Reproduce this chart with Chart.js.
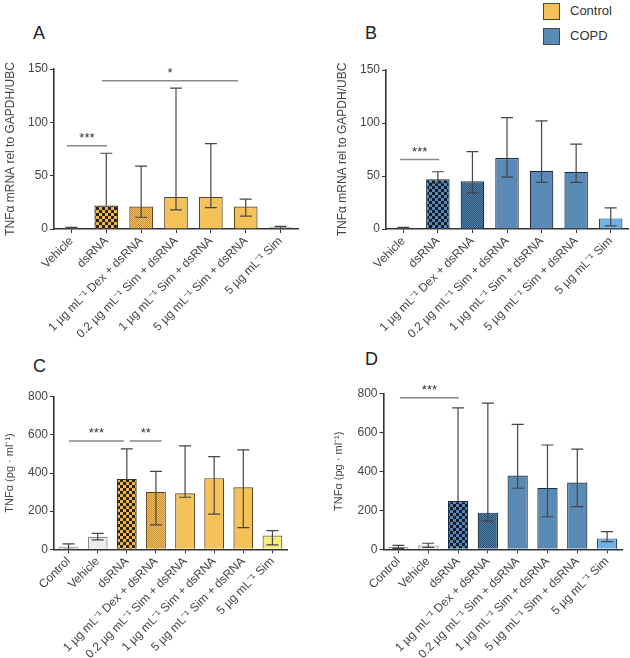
<!DOCTYPE html>
<html><head><meta charset="utf-8">
<script src="https://cdn.jsdelivr.net/npm/chart.js@4"></script>
<style>
html,body{margin:0;padding:0;background:#fff;width:630px;height:658px;overflow:hidden;font-family:"Liberation Sans",Arial,sans-serif;}
canvas{position:absolute;}
.lt{position:absolute;font-size:18px;color:#222;}
.lg{position:absolute;font-size:13px;color:#333;}
.sq{position:absolute;width:15px;height:15px;border:1px solid #444;}
</style></head><body>
<div class="lt" style="left:33px;top:23px">A</div>
<div class="lt" style="left:365px;top:23px">B</div>
<div class="lt" style="left:33px;top:356px">C</div>
<div class="lt" style="left:365px;top:349px">D</div>
<div class="sq" style="left:543px;top:3px;background:#f5c25a"></div>
<div class="lg" style="left:570px;top:3px">Control</div>
<div class="sq" style="left:543px;top:28px;background:#5a8ab6"></div>
<div class="lg" style="left:570px;top:28px">COPD</div>
<canvas id="cA" width="315" height="345" style="left:0;top:0"></canvas>
<canvas id="cB" width="315" height="345" style="left:315px;top:0"></canvas>
<canvas id="cC" width="315" height="308" style="left:0;top:350px"></canvas>
<canvas id="cD" width="315" height="313" style="left:315px;top:345px"></canvas>
<script>
// ---- data ----
const catsAB = ['Vehicle','dsRNA','1 µg mL⁻¹ Dex + dsRNA','0.2 µg mL⁻¹ Sim + dsRNA','1 µg mL⁻¹ Sim + dsRNA','5 µg mL⁻¹ Sim + dsRNA','5 µg mL⁻¹ Sim'];
const catsCD = ['Control','Vehicle','dsRNA','1 µg mL⁻¹ Dex + dsRNA','0.2 µg mL⁻¹ Sim + dsRNA','1 µg mL⁻¹ Sim + dsRNA','5 µg mL⁻¹ Sim + dsRNA','5 µg mL⁻¹ Sim'];

const aMean = [1, 22, 21, 30, 30, 21, 1.5];
const aHi   = [1.5, 71, 59, 132, 80, 28, 2.5];
const aLo   = [0.5, 22, 11, 18, 20, 12, 0.5];

const bMean = [1, 47, 45, 67, 55, 54, 10];
const bHi   = [1.5, 54, 73, 105, 102, 80, 20];
const bLo   = [0.5, 43, 34, 49, 44, 44, 3];

const cMean = [14, 66, 369, 302, 294, 373, 325, 72];
const cHi   = [28, 84, 526, 408, 542, 486, 521, 98];
const cLo   = [0, 49, 369, 128, 273, 184, 114, 23];

const dMean = [12, 20, 248, 188, 378, 315, 342, 56];
const dHi   = [20, 31, 725, 750, 641, 535, 514, 91];
const dLo   = [5, 10, 248, 145, 313, 167, 219, 39];

const sigA = [{from:-0.13,to:1.02,y:78,label:'***'},{from:0.88,to:4.78,y:139,label:'*'}];
const sigB = [{from:-0.09,to:1.04,y:65.5,label:'***'}];
const sigC = [{from:0.01,to:1.9,y:568,label:'***'},{from:2.1,to:3.2,y:568,label:'**'}];
const sigD = [{from:0.05,to:2.03,y:777,label:'***'}];

const yTitleAB = 'TNFα mRNA rel to GAPDH/UBC';
const yTitleCD = 'TNFα (pg · ml⁻¹)';

// ---- styles ----
function pat(c1, c2, s){
  const cv=document.createElement('canvas'); cv.width=cv.height=2*s;
  const x=cv.getContext('2d'); x.fillStyle=c1; x.fillRect(0,0,2*s,2*s);
  x.fillStyle=c2; x.fillRect(0,0,s,s); x.fillRect(s,s,s,s);
  return x.createPattern(cv,'repeat');
}
const OR='#f5c25a', BL='#5a8ab6';
const orCheck=pat('#2a2214','#f0b843',3), orFine=pat('#f2bd56','#c9923c',1);
const blCheck=pat('#101a28','#5787b4',3), blFine=pat('#4f80ae','#2c5276',1);
const grey='#ececec';

const FONT='"Liberation Sans", Arial, sans-serif';

function overlay(hi, lo, mean, sigs){
  return {id:'ov', afterDatasetsDraw(ch){
    const c=ch.ctx, xs=ch.scales.x, ys=ch.scales.y;
    c.save();
    c.strokeStyle='#454545'; c.lineWidth=1.2;
    hi.forEach((h,i)=>{
      const x=xs.getPixelForValue(i), yh=ys.getPixelForValue(h), ym=ys.getPixelForValue(mean[i]);
      const hasLo = lo[i] < mean[i];
      const yl = hasLo ? ys.getPixelForValue(lo[i]) : ym;
      c.beginPath(); c.moveTo(x,yl); c.lineTo(x,yh);
      c.moveTo(x-6,yh); c.lineTo(x+6,yh);
      if(hasLo){ c.moveTo(x-6,yl); c.lineTo(x+6,yl); }
      c.stroke();
    });
    sigs.forEach(s=>{
      const x1=xs.getPixelForValue(s.from), x2=xs.getPixelForValue(s.to), y=ys.getPixelForValue(s.y);
      c.strokeStyle='#8a8a8a'; c.lineWidth=1.5;
      c.beginPath(); c.moveTo(x1,y); c.lineTo(x2,y); c.stroke();
      c.fillStyle='#333'; c.font='13px '+FONT; c.textAlign='center'; c.textBaseline='alphabetic';
      c.fillText(s.label,(x1+x2)/2,y-4);
    });
    c.restore();
  }};
}

function makeChart(id, cats, mean, hi, lo, sigs, fills, borders, ymax, step, yTitle, titleSize, pad, yW, xH){
  return new Chart(document.getElementById(id), {
    type:'bar',
    data:{labels:cats, datasets:[{data:mean, backgroundColor:fills, borderColor:borders, borderWidth:1.2,
      categoryPercentage:1, barPercentage:0.68}]},
    options:{
      responsive:false, animation:false,
      layout:{padding:pad},
      plugins:{legend:{display:false}, tooltip:{enabled:false}},
      scales:{
        x:{
          afterFit(s){ s.height=xH; },
          grid:{display:true, drawOnChartArea:false, drawTicks:true, tickLength:4, offset:false, color:'#333'},
          border:{display:true, color:'#333', width:1.6},
          ticks:{autoSkip:false, minRotation:45, maxRotation:45, padding:1, color:'#444', font:{family:FONT,size:12}}
        },
        y:{
          min:0, max:ymax,
          afterFit(s){ s.width=yW; },
          grid:{display:true, drawOnChartArea:false, drawTicks:true, tickLength:4, color:'#333'},
          border:{display:true, color:'#333', width:1.6},
          ticks:{stepSize:step, padding:2, color:'#444', font:{family:FONT,size:12}},
          title:{display:true, text:yTitle, color:'#444', padding:{top:0,bottom:0}, font:{family:FONT,size:titleSize}}
        }
      }
    },
    plugins:[overlay(hi, lo, mean, sigs)]
  });
}

makeChart('cA', catsAB, aMean, aHi, aLo, sigA,
  ['#333', orCheck, orFine, OR, OR, OR, '#333'],
  ['#333','#333','#5a4520','#5a4520','#5a4520','#5a4520','#333'],
  150, 50, yTitleAB, 12, {top:69,left:3,right:17,bottom:0}, 51, 116);

makeChart('cB', catsAB, bMean, bHi, bLo, sigB,
  ['#333', blCheck, blFine, BL, BL, BL, '#6fb2e6'],
  ['#333','#1d2c3c','#1d2c3c','#1d2c3c','#1d2c3c','#1d2c3c','#2a4a66'],
  150, 50, yTitleAB, 12, {top:70,left:20,right:2,bottom:0}, 51, 116);

makeChart('cC', catsCD, cMean, cHi, cLo, sigC,
  [grey, grey, orCheck, orFine, OR, OR, OR, '#f4ec7c'],
  ['#8a8a8a','#8a8a8a','#333','#5a4520','#5a4520','#5a4520','#5a4520','#666'],
  800, 200, yTitleCD, 11, {top:46.7,left:3,right:28,bottom:0}, 51, 108.7);

makeChart('cD', catsCD, dMean, dHi, dLo, sigD,
  [grey, grey, blCheck, blFine, BL, BL, BL, '#6fb2e6'],
  ['#8a8a8a','#8a8a8a','#1d2c3c','#1d2c3c','#1d2c3c','#1d2c3c','#1d2c3c','#2a4a66'],
  800, 200, yTitleCD, 11, {top:48.3,left:17.5,right:8,bottom:0}, 51, 108.7);
</script>
</body></html>
